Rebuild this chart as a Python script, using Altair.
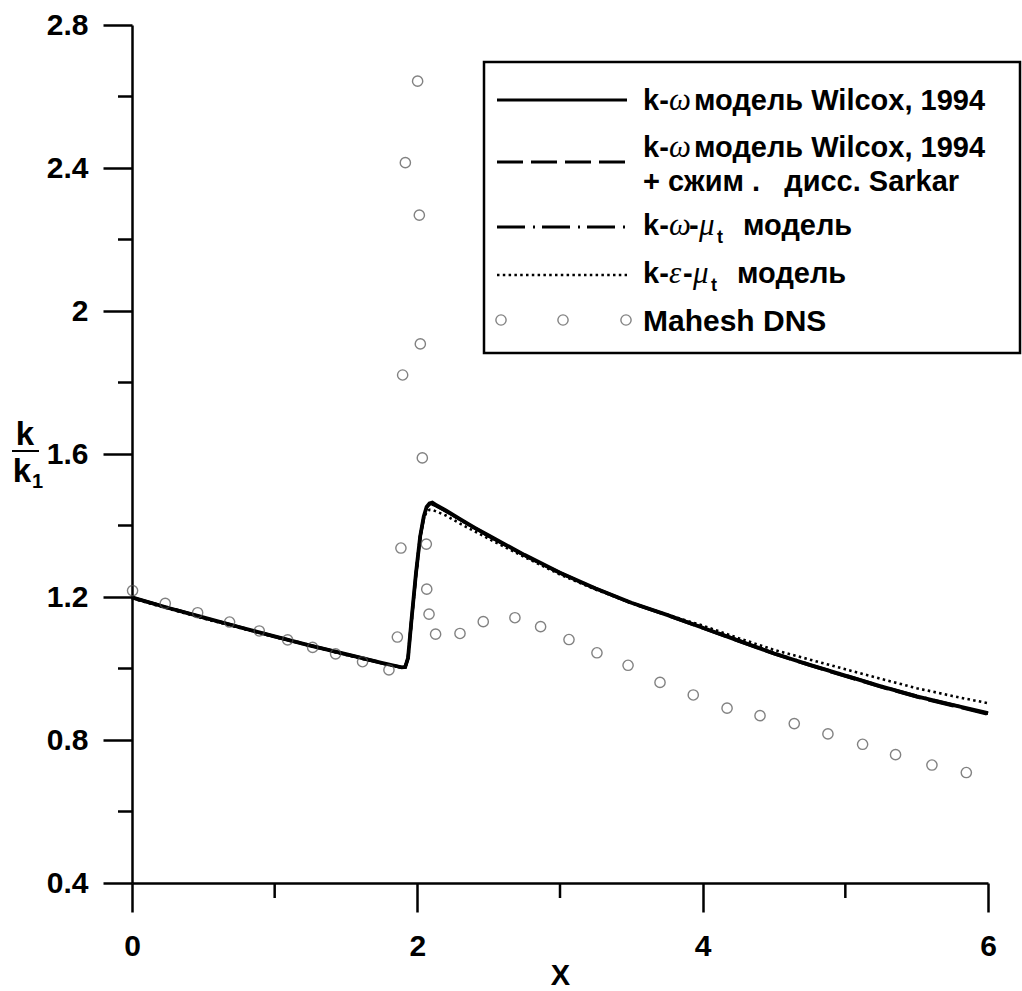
import altair as alt
import pandas as pd

# ---------------- data ----------------
solid_x = [0, 0.25, 0.5, 0.75, 1.0, 1.25, 1.5, 1.75, 1.85, 1.89, 1.915, 1.935, 1.96, 1.99, 2.02,
           2.045, 2.065, 2.085, 2.105, 2.13, 2.2, 2.3, 2.4, 2.5, 2.75, 3.0, 3.25, 3.5, 3.75, 4.0,
           4.25, 4.5, 4.75, 5.0, 5.25, 5.5, 5.75, 6.0]
solid_y = [1.199, 1.170, 1.143, 1.116, 1.090, 1.064, 1.040, 1.016, 1.007, 1.003, 1.004, 1.030,
           1.140, 1.265, 1.370, 1.425, 1.452, 1.462, 1.464, 1.458, 1.442, 1.418, 1.394, 1.372,
           1.318, 1.268, 1.224, 1.184, 1.150, 1.114, 1.078, 1.042, 1.010, 0.980, 0.950, 0.922,
           0.898, 0.875]

dashed_x = [0, 0.5, 1.0, 1.5, 1.75, 1.85, 1.89, 1.915, 1.935, 1.96, 1.99, 2.02, 2.045, 2.065,
            2.085, 2.105, 2.13, 2.2, 2.3, 2.5, 2.75, 3.0, 3.25, 3.5, 3.75, 4.0, 4.25, 4.5, 4.75,
            5.0, 5.25, 5.5, 5.75, 6.0]
dashed_y = [1.198, 1.142, 1.089, 1.039, 1.015, 1.006, 1.003, 1.004, 1.029, 1.138, 1.262, 1.368,
            1.423, 1.450, 1.459, 1.461, 1.456, 1.440, 1.416, 1.370, 1.316, 1.267, 1.223, 1.183,
            1.149, 1.113, 1.077, 1.041, 1.009, 0.978, 0.948, 0.920, 0.896, 0.872]

dashdot_x = [0, 0.5, 1.0, 1.5, 1.75, 1.85, 1.89, 1.915, 1.935, 1.96, 1.99, 2.02, 2.045, 2.065,
             2.085, 2.105, 2.13, 2.2, 2.3, 2.5, 2.75, 3.0, 3.25, 3.5, 3.75, 4.0, 4.25, 4.5, 4.75,
             5.0, 5.25, 5.5, 5.75, 6.0]
dashdot_y = [1.199, 1.143, 1.090, 1.040, 1.016, 1.007, 1.003, 1.004, 1.030, 1.139, 1.263, 1.369,
             1.422, 1.448, 1.457, 1.459, 1.455, 1.440, 1.417, 1.371, 1.317, 1.268, 1.224, 1.184,
             1.150, 1.115, 1.079, 1.043, 1.011, 0.981, 0.951, 0.923, 0.899, 0.874]

dotted_x = [0, 0.5, 1.0, 1.5, 1.75, 1.85, 1.89, 1.915, 1.935, 1.96, 1.99, 2.02, 2.045, 2.065,
            2.085, 2.11, 2.2, 2.3, 2.5, 2.75, 3.0, 3.25, 3.5, 3.75, 4.0, 4.25, 4.5, 4.75, 5.0,
            5.25, 5.5, 5.75, 6.0]
dotted_y = [1.196, 1.140, 1.088, 1.038, 1.015, 1.006, 1.003, 1.005, 1.030, 1.135, 1.258, 1.362,
            1.418, 1.438, 1.444, 1.443, 1.428, 1.405, 1.363, 1.312, 1.263, 1.221, 1.183, 1.151,
            1.120, 1.085, 1.052, 1.025, 0.998, 0.971, 0.945, 0.923, 0.903]

dns_x = [0.004, 0.233, 0.46, 0.684, 0.892, 1.091, 1.266, 1.427, 1.616, 1.801, 1.860, 1.885,
         1.897, 1.916, 2.002, 2.014, 2.021, 2.035, 2.063, 2.066, 2.082, 2.128, 2.299, 2.462,
         2.684, 2.864, 3.063, 3.259, 3.477, 3.701, 3.934, 4.171, 4.402, 4.642, 4.878, 5.121,
         5.352, 5.607, 5.848]
dns_y = [1.218, 1.182, 1.156, 1.130, 1.105, 1.080, 1.059, 1.041, 1.019, 0.996, 1.088, 1.337,
         1.821, 2.415, 2.643, 2.268, 1.908, 1.589, 1.348, 1.222, 1.152, 1.096, 1.098, 1.131,
         1.142, 1.117, 1.081, 1.044, 1.009, 0.961, 0.926, 0.889, 0.868, 0.846, 0.817, 0.788,
         0.759, 0.730, 0.709]

x_major = [0, 2, 4, 6]
x_minor = [1, 3, 5]
y_major = [0.4, 0.8, 1.2, 1.6, 2.0, 2.4, 2.8]
y_minor = [0.6, 1.0, 1.4, 1.8, 2.2, 2.6]

legend_row1 = ["k-", "ω", "модель Wilcox, 1994"]
legend_row2b = "+ сжим\u00a0.\u00a0\u00a0\u00a0дисс.\u00a0Sarkar"
legend_row3 = ["k-", "ω", "-", "μ", "t", "модель"]
legend_row4 = ["k-", "ε", "-", "μ", "t", "модель"]
legend_row5 = "Mahesh DNS"

# ---------------- layout ----------------
W, H = 856, 858
FONT = "Liberation Sans"
GREEK = "Liberation Serif"
LFS = 29

xs = alt.Scale(domain=[0, 6], nice=False, zero=False)
ys = alt.Scale(domain=[0.4, 2.8], nice=False, zero=False)

xaxis = alt.Axis(values=x_major, format="d", tickSize=29, tickWidth=2.5, domainWidth=2.5,
                 tickColor="black", domainColor="black", labelFont=FONT,
                 labelFontWeight="bold", labelFontSize=30, labelColor="black",
                 labelPadding=19, title="X", titleFont=FONT, titleFontWeight="bold",
                 titleFontSize=29, titleColor="black", titlePadding=0, grid=False,
                 labelFlush=False, labelOverlap=False)
yaxis = alt.Axis(values=y_major, format=".1~f", tickSize=29, tickWidth=2.5, domainWidth=2.5,
                 tickColor="black", domainColor="black", labelFont=FONT,
                 labelFontWeight="bold", labelFontSize=30, labelColor="black",
                 labelPadding=15, title=None, grid=False, labelFlush=False,
                 labelOverlap=False)


def line_layer(xv, yv, **mk):
    df = pd.DataFrame({"x": xv, "y": yv})
    return alt.Chart(df).mark_line(color="black", **mk).encode(
        x=alt.X("x:Q", scale=xs, axis=xaxis),
        y=alt.Y("y:Q", scale=ys, axis=yaxis),
    )


l_dashed = line_layer(dashed_x, dashed_y, strokeWidth=3, strokeDash=[26, 8])
l_dashdot = line_layer(dashdot_x, dashdot_y, strokeWidth=3, strokeDash=[28, 8, 2, 7])
l_solid = line_layer(solid_x, solid_y, strokeWidth=3.8)
l_dotted = line_layer(dotted_x, dotted_y, strokeWidth=2.6, strokeDash=[2.5, 3.3])

dns = alt.Chart(pd.DataFrame({"x": dns_x, "y": dns_y})).mark_point(
    shape="circle", filled=False, size=105, stroke="#4d4d4d", strokeWidth=1.4
).encode(x=alt.X("x:Q", scale=xs, axis=xaxis), y=alt.Y("y:Q", scale=ys, axis=yaxis))

xminor = alt.Chart(pd.DataFrame({"v": x_minor})).mark_rule(
    color="black", strokeWidth=2.5
).encode(x=alt.X("v:Q", scale=xs, axis=xaxis), y=alt.value(H), y2=alt.value(H + 15))

yminor = alt.Chart(pd.DataFrame({"v": y_minor})).mark_rule(
    color="black", strokeWidth=2.5
).encode(y=alt.Y("v:Q", scale=ys, axis=yaxis), x=alt.value(-14), x2=alt.value(0))

one = pd.DataFrame({"a": [0]})


def txt(s, x, y, size=LFS, font=FONT, weight="bold", style="normal", align="left"):
    return alt.Chart(one).mark_text(
        text=s, font=font, fontSize=size, fontWeight=weight, fontStyle=style,
        align=align, baseline="alphabetic", color="black"
    ).encode(x=alt.value(x), y=alt.value(y))


def hrule(x1, x2, y, **mk):
    return alt.Chart(one).mark_rule(color="black", **mk).encode(
        x=alt.value(x1), x2=alt.value(x2), y=alt.value(y))


# y-axis title as a fraction k / k1
ytitle = [
    txt("k", -107, 420, size=33, align="center"),
    hrule(-120, -93, 426, strokeWidth=2),
    txt("k", -110, 457, size=33, align="center"),
    txt("1", -100, 463, size=20),
]

# legend
LX0, LX1 = 365, 495
TX = 511
box = alt.Chart(one).mark_rect(fill="white", stroke="black", strokeWidth=2.5).encode(
    x=alt.value(352), x2=alt.value(888), y=alt.value(37), y2=alt.value(328))

leg = [box,
       hrule(LX0, LX1, 75, strokeWidth=3),
       hrule(LX0, LX1, 137, strokeWidth=3, strokeDash=[26, 8]),
       hrule(LX0, LX1, 202, strokeWidth=3, strokeDash=[28, 8, 2, 7]),
       hrule(LX0, LX1, 250, strokeWidth=2.6, strokeDash=[2.5, 3.3])]

for cx in [369, 431, 494]:
    leg.append(alt.Chart(one).mark_point(
        shape="circle", filled=False, size=105, stroke="#4d4d4d", strokeWidth=1.4
    ).encode(x=alt.value(cx), y=alt.value(295)))

GK = dict(size=31, font=GREEK, weight="normal", style="italic")
# row 1
leg += [txt(legend_row1[0], TX, 85), txt(legend_row1[1], 537, 85, **GK),
        txt(legend_row1[2], 562, 85)]
# row 2
leg += [txt(legend_row1[0], TX, 132), txt(legend_row1[1], 537, 132, **GK),
        txt(legend_row1[2], 562, 132), txt(legend_row2b, TX, 166)]
# row 3
leg += [txt(legend_row3[0], TX, 210),
        txt(legend_row3[1], 537, 210, **GK),
        txt(legend_row3[2], 557, 210),
        txt(legend_row3[3], 567, 210, **GK),
        txt(legend_row3[4], 585, 218, size=18),
        txt(legend_row3[5], 611, 210)]
# row 4
leg += [txt(legend_row4[0], TX, 258),
        txt(legend_row4[1], 537, 258, **GK),
        txt(legend_row4[2], 551, 258),
        txt(legend_row4[3], 561, 258, **GK),
        txt(legend_row4[4], 579, 266, size=18),
        txt(legend_row4[5], 605, 258)]
# row 5
leg += [txt(legend_row5, TX, 306, size=30)]

chart = alt.layer(
    xminor, yminor, l_dashed, l_dashdot, l_solid, l_dotted, dns, *ytitle, *leg
).properties(
    width=W, height=H,
    padding={"left": 132, "top": 25, "right": 34, "bottom": 108},
    autosize=alt.AutoSizeParams(type="none"),
    background="white",
).configure_view(stroke=None)

chart.save("out.html", embed_options={"renderer": "svg", "actions": False})
